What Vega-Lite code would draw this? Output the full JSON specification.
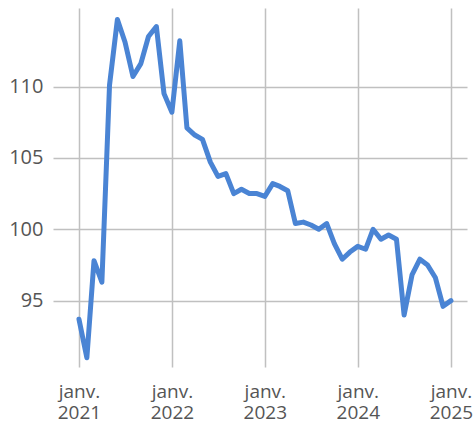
{
  "$schema": "https://vega.github.io/schema/vega-lite/v6.json",
  "width": 414,
  "height": 359,
  "autosize": {"type": "none"},
  "padding": {"left": 53, "top": 8, "right": 8, "bottom": 57},
  "background": "white",
  "config": {
    "view": {"stroke": null},
    "font": "Open Sans",
    "axis": {"labelFont": "Open Sans", "labelFontSize": 20, "labelColor": "#555555", "gridColor": "#c0c0c0", "gridWidth": 1.5, "domain": false, "ticks": false}
  },
  "data": {
    "values": [
      {"date": "2021-01-01", "v": 93.7},
      {"date": "2021-02-01", "v": 91.0},
      {"date": "2021-03-01", "v": 97.8},
      {"date": "2021-04-01", "v": 96.3},
      {"date": "2021-05-01", "v": 110.1},
      {"date": "2021-06-01", "v": 114.7},
      {"date": "2021-07-01", "v": 113.1},
      {"date": "2021-08-01", "v": 110.7},
      {"date": "2021-09-01", "v": 111.6},
      {"date": "2021-10-01", "v": 113.5},
      {"date": "2021-11-01", "v": 114.2},
      {"date": "2021-12-01", "v": 109.5},
      {"date": "2022-01-01", "v": 108.2},
      {"date": "2022-02-01", "v": 113.2},
      {"date": "2022-03-01", "v": 107.1},
      {"date": "2022-04-01", "v": 106.6},
      {"date": "2022-05-01", "v": 106.3},
      {"date": "2022-06-01", "v": 104.7},
      {"date": "2022-07-01", "v": 103.7},
      {"date": "2022-08-01", "v": 103.9},
      {"date": "2022-09-01", "v": 102.5},
      {"date": "2022-10-01", "v": 102.8},
      {"date": "2022-11-01", "v": 102.5},
      {"date": "2022-12-01", "v": 102.5},
      {"date": "2023-01-01", "v": 102.3},
      {"date": "2023-02-01", "v": 103.2},
      {"date": "2023-03-01", "v": 103.0},
      {"date": "2023-04-01", "v": 102.7},
      {"date": "2023-05-01", "v": 100.4},
      {"date": "2023-06-01", "v": 100.5},
      {"date": "2023-07-01", "v": 100.3},
      {"date": "2023-08-01", "v": 100.0},
      {"date": "2023-09-01", "v": 100.4},
      {"date": "2023-10-01", "v": 99.0},
      {"date": "2023-11-01", "v": 97.9},
      {"date": "2023-12-01", "v": 98.4},
      {"date": "2024-01-01", "v": 98.8},
      {"date": "2024-02-01", "v": 98.6},
      {"date": "2024-03-01", "v": 100.0},
      {"date": "2024-04-01", "v": 99.3},
      {"date": "2024-05-01", "v": 99.6},
      {"date": "2024-06-01", "v": 99.3},
      {"date": "2024-07-01", "v": 94.0},
      {"date": "2024-08-01", "v": 96.8},
      {"date": "2024-09-01", "v": 97.9},
      {"date": "2024-10-01", "v": 97.5},
      {"date": "2024-11-01", "v": 96.6},
      {"date": "2024-12-01", "v": 94.6},
      {"date": "2025-01-01", "v": 95.0}
    ]
  },
  "mark": {"type": "line", "color": "#4a84d4", "strokeWidth": 5, "strokeJoin": "round", "strokeCap": "round"},
  "encoding": {
    "x": {
      "field": "date",
      "type": "temporal",
      "scale": {"domain": ["2020-09-21", "2025-03-05"]},
      "axis": {
        "title": null,
        "values": ["2021-01-01", "2022-01-01", "2023-01-01", "2024-01-01", "2025-01-01"],
        "labelExpr": "['janv.', timeFormat(datum.value, '%Y')]",
        "labelPadding": 15,
        "labelLineHeight": 21,
        "labelFontSize": 19,
        "labelFlush": false
      }
    },
    "y": {
      "field": "v",
      "type": "quantitative",
      "scale": {"domain": [90.35, 115.5], "nice": false, "zero": false},
      "axis": {"title": null, "values": [95, 100, 105, 110], "labelPadding": 10}
    }
  }
}
